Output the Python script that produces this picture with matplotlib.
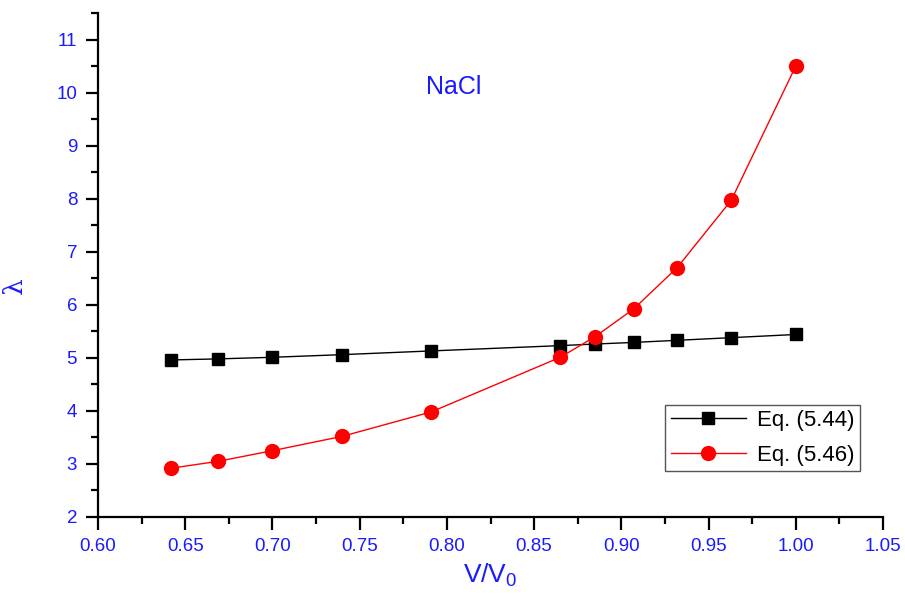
#!/usr/bin/env python3
"""Lambda vs V/V0 for NaCl, two equations."""
import matplotlib
matplotlib.use('Agg')
import matplotlib.pyplot as plt
from matplotlib.ticker import MultipleLocator

# data
v_ratio = [0.642, 0.669, 0.700, 0.740, 0.791, 0.865, 0.885, 0.907, 0.932, 0.963, 1.000]
lam_544 = [4.96, 4.98, 5.01, 5.06, 5.13, 5.23, 5.26, 5.29, 5.33, 5.38, 5.44]
lam_546 = [2.92, 3.05, 3.25, 3.52, 3.98, 5.01, 5.40, 5.92, 6.70, 7.97, 10.50]

labels = ['Eq. (5.44)', 'Eq. (5.46)']
blue = '#1a1aff'

plt.rcParams['font.family'] = ['Liberation Sans', 'DejaVu Sans']

fig = plt.figure(figsize=(9.05, 6.01), dpi=100)
ax = fig.add_axes([0.1083, 0.1398, 0.8674, 0.8386])

ax.plot(v_ratio, lam_544, color='black', lw=1.0, marker='s', ms=9,
        label=labels[0])
ax.plot(v_ratio, lam_546, color='red', lw=1.0, marker='o', ms=10,
        label=labels[1])

ax.set_xlim(0.60, 1.05)
ax.set_ylim(2, 11.5)
ax.xaxis.set_major_locator(MultipleLocator(0.05))
ax.xaxis.set_minor_locator(MultipleLocator(0.025))
ax.yaxis.set_major_locator(MultipleLocator(1))
ax.yaxis.set_minor_locator(MultipleLocator(0.5))
ax.xaxis.set_major_formatter(plt.FormatStrFormatter('%.2f'))

for side in ('top', 'right'):
    ax.spines[side].set_visible(False)
for side in ('left', 'bottom'):
    ax.spines[side].set_linewidth(1.6)

ax.tick_params(which='major', direction='out', length=9, width=1.6,
               labelsize=13.5, labelcolor=blue, pad=6)
ax.tick_params(which='minor', direction='out', length=5, width=1.6)

ax.set_xlabel('V/V$_\\mathregular{0}$', fontsize=19, color=blue, labelpad=5)
ax.set_ylabel('λ', fontsize=19, color=blue, family='DejaVu Serif')
ax.yaxis.set_label_coords(-0.09, 0.46)

# NaCl position in axes fraction, from pixel (453, 87)
ax.text(0.453, 0.853, 'NaCl', transform=ax.transAxes, fontsize=18,
        color=blue, ha='center', va='center')

leg = ax.legend(loc='lower right', bbox_to_anchor=(0.971, 0.091),
                fontsize=16, handlelength=3.4, fancybox=False,
                edgecolor='#555555', framealpha=1, borderpad=0.25,
                labelspacing=0.6, handletextpad=0.5, borderaxespad=0)
leg.get_frame().set_linewidth(1.0)

fig.savefig('out.png', dpi=100)
